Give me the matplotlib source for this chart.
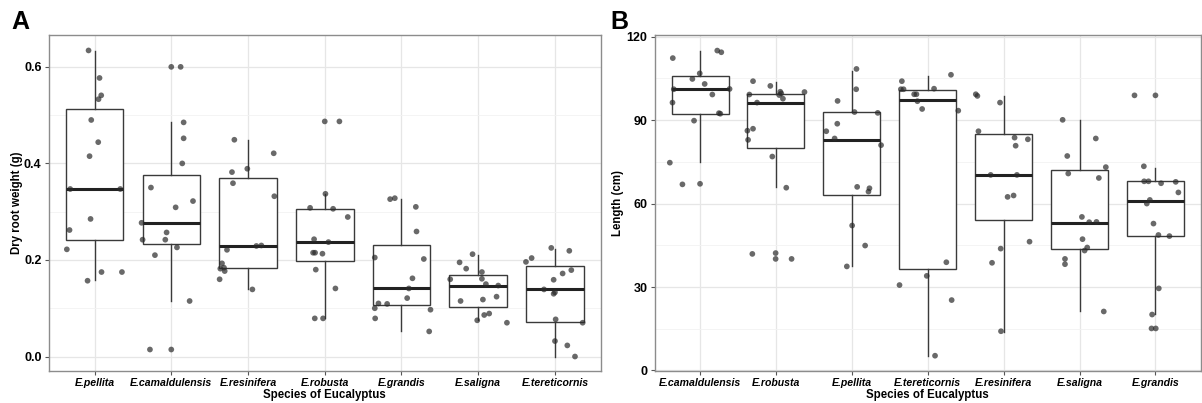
import matplotlib
matplotlib.use("Agg")
import matplotlib.pyplot as plt
import numpy as np

plt.rcParams['font.family'] = ['Liberation Sans', 'DejaVu Sans']

# ---------------- Panel A: dry root weight (g) ----------------
species_a = ["E.pellita", "E.camaldulensis", "E.resinifera", "E.robusta",
             "E.grandis", "E.saligna", "E.tereticornis"]
# box stats: whisker low, q1, median, q3, whisker high
a_whislo = [0.158, 0.115, 0.139, 0.079, 0.053, 0.075, 0.000]
a_q1     = [0.242, 0.234, 0.183, 0.197, 0.106, 0.103, 0.072]
a_med    = [0.347, 0.277, 0.229, 0.238, 0.141, 0.146, 0.139]
a_q3     = [0.512, 0.375, 0.370, 0.306, 0.232, 0.168, 0.188]
a_whishi = [0.632, 0.485, 0.448, 0.337, 0.326, 0.210, 0.223]
# jittered observations: values and horizontal jitter offsets
a_vals = [
    [0.634, 0.577, 0.541, 0.533, 0.490, 0.444, 0.415, 0.347, 0.347, 0.285, 0.262, 0.222, 0.157, 0.175, 0.175],
    [0.600, 0.600, 0.485, 0.452, 0.400, 0.350, 0.322, 0.309, 0.277, 0.257, 0.242, 0.242, 0.226, 0.210, 0.115, 0.0145, 0.0145],
    [0.449, 0.421, 0.389, 0.382, 0.359, 0.332, 0.229, 0.230, 0.221, 0.193, 0.182, 0.184, 0.177, 0.160, 0.139],
    [0.487, 0.487, 0.337, 0.308, 0.306, 0.289, 0.243, 0.237, 0.215, 0.215, 0.213, 0.180, 0.141, 0.079, 0.079],
    [0.326, 0.328, 0.310, 0.259, 0.205, 0.202, 0.162, 0.141, 0.121, 0.110, 0.109, 0.100, 0.097, 0.079, 0.052],
    [0.212, 0.195, 0.182, 0.175, 0.160, 0.161, 0.150, 0.147, 0.124, 0.115, 0.118, 0.089, 0.086, 0.075, 0.070],
    [0.225, 0.219, 0.196, 0.204, 0.179, 0.172, 0.159, 0.139, 0.130, 0.133, 0.077, 0.070, 0.032, 0.023, 0.000],
]
a_jit = [
    [-0.078, 0.065, 0.087, 0.052, -0.043, 0.048, -0.065, -0.317, 0.335, -0.052, -0.326, -0.361, -0.091, 0.091, 0.357],
    [0.0, 0.122, 0.161, 0.161, 0.143, -0.265, 0.283, 0.057, -0.387, -0.061, -0.374, -0.078, 0.074, -0.213, 0.239, -0.278, 0.0],
    [-0.178, 0.335, -0.009, -0.209, -0.196, 0.343, 0.109, 0.174, -0.274, -0.339, -0.361, -0.313, -0.304, -0.370, 0.057],
    [0.0, 0.191, 0.009, -0.191, 0.109, 0.300, -0.139, 0.048, -0.152, -0.126, -0.030, -0.117, 0.139, -0.130, -0.022],
    [-0.148, -0.087, 0.187, 0.196, -0.348, 0.291, 0.143, 0.096, 0.074, -0.300, -0.187, -0.348, 0.378, -0.343, 0.361],
    [-0.074, -0.243, -0.157, 0.048, -0.365, 0.048, 0.100, 0.261, 0.239, -0.230, 0.061, 0.143, 0.078, -0.013, 0.374],
    [-0.048, 0.187, -0.378, -0.304, 0.213, 0.100, -0.017, -0.143, -0.017, 0.0, 0.009, 0.361, 0.0, 0.161, 0.261],
]

# ---------------- Panel B: length (cm) ----------------
species_b = ["E.camaldulensis", "E.robusta", "E.pellita", "E.tereticornis",
             "E.resinifera", "E.saligna", "E.grandis"]
b_whislo = [75.0, 66.0, 37.4, 5.3, 14.0, 21.2, 20.2]
b_q1     = [92.3, 80.0, 63.0, 36.5, 54.0, 43.6, 48.5]
b_med    = [101.1, 96.0, 83.0, 97.1, 70.1, 53.1, 61.0]
b_q3     = [106.0, 99.5, 92.9, 101.0, 84.9, 71.9, 68.0]
b_whishi = [115.0, 103.8, 107.8, 105.9, 98.7, 90.1, 72.9]
b_vals = [
    [115.0, 114.4, 112.3, 106.8, 104.8, 103.0, 99.2, 101.1, 101.2, 96.3, 92.5, 92.3, 89.8, 74.7, 66.9, 67.1],
    [104.0, 102.3, 100.2, 99.6, 99.2, 100.1, 97.7, 99.0, 96.3, 86.9, 86.2, 82.9, 76.9, 65.7, 41.9, 42.2, 40.1, 40.1],
    [108.4, 101.1, 96.9, 92.9, 92.6, 88.7, 86.0, 83.4, 81.0, 66.0, 65.5, 64.3, 52.1, 44.9, 37.4],
    [104.0, 101.1, 101.1, 106.3, 101.3, 99.3, 99.3, 96.8, 94.0, 93.4, 38.9, 34.0, 25.3, 5.3, 30.7],
    [99.3, 98.7, 96.3, 86.0, 83.7, 83.1, 80.8, 70.3, 70.3, 62.9, 62.4, 46.3, 43.8, 38.7, 14.1],
    [90.1, 83.4, 77.1, 70.8, 73.1, 69.2, 55.2, 53.3, 53.4, 47.2, 44.2, 43.1, 40.1, 38.2, 21.2],
    [98.9, 98.9, 73.4, 68.0, 68.0, 67.3, 67.8, 64.0, 61.3, 60.0, 52.8, 48.7, 48.3, 29.5, 20.1, 15.1, 15.1],
]
b_jit = [
    [0.227, 0.280, -0.359, -0.004, -0.101, 0.061, 0.162, -0.346, 0.389, -0.363, 0.249, 0.267, -0.079, -0.398, -0.232, 0.0],
    [-0.302, -0.074, 0.057, 0.070, -0.350, 0.376, 0.092, 0.044, -0.249, -0.302, -0.376, -0.367, -0.048, 0.136, -0.311, -0.004, -0.004, 0.206],
    [0.061, 0.057, -0.188, 0.035, 0.341, -0.192, -0.337, -0.227, 0.385, 0.070, 0.232, 0.219, 0.004, 0.175, -0.066],
    [-0.341, -0.354, -0.319, 0.306, 0.083, -0.179, -0.149, -0.136, -0.074, 0.402, 0.245, -0.013, 0.315, 0.096, -0.372],
    [-0.367, -0.346, -0.048, -0.332, 0.144, 0.319, 0.158, -0.171, 0.175, 0.131, 0.052, 0.341, -0.039, -0.153, -0.035],
    [-0.223, 0.214, -0.162, -0.149, 0.346, 0.254, 0.031, 0.127, 0.223, 0.039, 0.101, 0.066, -0.192, -0.192, 0.319],
    [-0.276, 0.0, -0.153, -0.149, -0.092, 0.074, 0.267, 0.302, -0.074, -0.114, -0.026, 0.039, 0.184, 0.044, -0.044, -0.052, 0.004],
]

W, H = 1202, 403
fig = plt.figure(figsize=(W / 100, H / 100), dpi=100)

def panel(rect, species, whislo, q1, med, q3, whishi, vals, jit,
          ylim, major, minor, fmt, ylabel, letter, letter_x, ylabel_x):
    ax = fig.add_axes(rect)
    n = len(species)
    pos = np.arange(1, n + 1)
    stats = [dict(whislo=whislo[i], q1=q1[i], med=med[i], q3=q3[i],
                  whishi=whishi[i], fliers=[]) for i in range(n)]
    ax.bxp(stats, positions=pos, widths=0.75, showfliers=False, showcaps=False,
           patch_artist=True,
           boxprops=dict(facecolor='white', edgecolor='#3a3a3a', linewidth=1.0),
           whiskerprops=dict(color='#3a3a3a', linewidth=1.0),
           medianprops=dict(color='#222222', linewidth=2.2),
           zorder=2)
    for i in range(n):
        x = pos[i] + np.array(jit[i])
        ax.scatter(x, vals[i], s=17, color='#2a2a2a', alpha=0.7,
                   edgecolors='none', zorder=3)
    ax.set_xlim(0.4, n + 0.6)
    ax.set_ylim(*ylim)
    ax.set_yticks(major)
    ax.set_yticks(minor, minor=True)
    ax.set_yticklabels([fmt.format(v) for v in major])
    ax.set_xticks(pos)
    ax.set_xticklabels(species)
    ax.grid(True, which='major', color='#e6e6e6', linewidth=0.9, zorder=0)
    ax.grid(True, which='minor', axis='y', color='#f2f2f2', linewidth=0.6, zorder=0)
    ax.set_axisbelow(True)
    for s in ax.spines.values():
        s.set_color('#8c8c8c')
        s.set_linewidth(1.0)
    ax.tick_params(axis='y', which='major', length=3, color='#555555',
                   labelsize=9, pad=2)
    ax.tick_params(axis='x', which='major', length=3, color='#555555',
                   labelsize=7.6, pad=2)
    ax.tick_params(axis='y', which='minor', length=0)
    for lab in ax.get_yticklabels():
        lab.set_fontweight('bold')
    for lab in ax.get_xticklabels():
        lab.set_fontweight('bold')
        lab.set_fontstyle('italic')
    ax.set_xlabel('Species of Eucalyptus', fontsize=8.3, fontweight='bold', labelpad=1)
    ax.set_ylabel(ylabel, fontsize=8.3, fontweight='bold')
    ax.yaxis.set_label_coords(ylabel_x, 0.5)
    fig.text(letter_x, 0.975, letter, fontsize=18, fontweight='bold',
             ha='left', va='top')
    return ax

ax1 = panel([48.5 / W, 32 / H, (601 - 48.5) / W, (371 - 35) / H],
            species_a, a_whislo, a_q1, a_med, a_q3, a_whishi, a_vals, a_jit,
            (-0.030, 0.666), [0.0, 0.2, 0.4, 0.6], [0.1, 0.3, 0.5], '{:.1f}',
            'Dry root weight (g)', 'A', 11 / W, -0.047)
ax2 = panel([654.5 / W, 32 / H, (1201 - 654.5) / W, (371 - 35) / H],
            species_b, b_whislo, b_q1, b_med, b_q3, b_whishi, b_vals, b_jit,
            (-0.2, 120.6), [0, 30, 60, 90, 120], [15, 45, 75, 105], '{:.0f}',
            'Length (cm)', 'B', 610 / W, -0.056)

fig.savefig('out.png', dpi=100)
